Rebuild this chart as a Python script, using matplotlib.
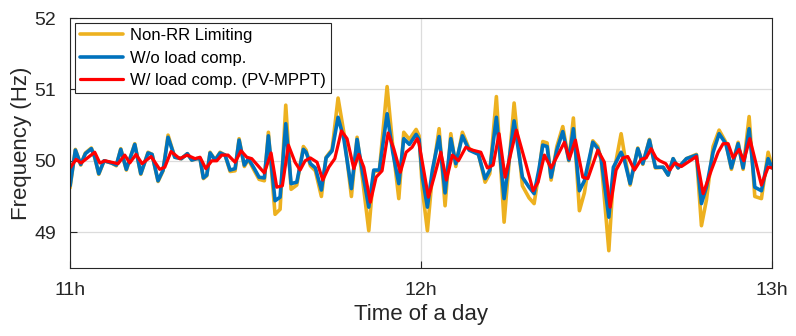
import matplotlib
matplotlib.use('Agg')
import matplotlib.pyplot as plt
import numpy as np

plt.rcParams['font.family'] = ['Liberation Sans', 'DejaVu Sans']

# minutes after 11h, frequency in Hz
tBlue = [0, 0.91, 1.83, 2.62, 3.64, 4.22, 4.91, 5.81, 7.06, 7.91, 8.67, 9.62, 11.06, 12.09,
         13.33, 14.02, 15.04, 15.90, 16.75, 17.90, 19.03, 20.05, 20.80, 21.66, 22.22, 22.79,
         23.37, 23.93, 24.79, 25.64, 26.50, 27.35, 28.21, 28.89, 29.79, 30.48, 31.50, 32.31,
         33.21, 33.90, 35.04, 35.90, 36.87, 37.78, 38.75, 39.88, 40.34, 41.08, 41.93, 42.96,
         43.76, 44.79, 45.81, 46.79, 48.09, 49.06, 50.03, 51.06, 51.91, 52.87, 54.19, 55.16,
         56.19, 57.04, 58.00, 59.15, 59.66, 60.22, 61.08, 61.93, 63.08, 64.10, 65.08, 65.93,
         67.06, 68.21, 69.80, 70.94, 71.74, 72.87, 74.19, 75.90, 77.32, 78.46, 79.32, 80.17,
         80.80, 81.54, 82.22, 83.20, 84.22, 85.25, 86.03, 87.06, 87.91, 89.35, 90.21, 90.77,
         92.09, 92.87, 94.19, 94.75, 95.73, 97.04, 97.90, 99.03, 100.05, 101.37, 102.22,
         103.08, 103.93, 105.35, 107.06, 107.92, 108.77, 109.91, 110.94, 112.09, 113.04,
         114.19, 115.04, 116.07, 117.04, 118.17, 119.32, 120]
fBlue = [49.65, 50.15, 49.95, 50.10, 50.17, 50.05, 49.82, 50.00, 49.97, 49.94, 50.16, 49.88,
         50.23, 49.82, 50.11, 50.09, 49.72, 49.87, 50.33, 50.05, 50.03, 50.10, 50.01, 50.03,
         50.03, 49.76, 49.80, 50.11, 50.01, 50.11, 50.08, 49.87, 49.89, 50.29, 49.94, 50.03,
         49.89, 49.77, 49.76, 50.35, 49.44, 49.49, 50.52, 49.68, 49.70, 50.16, 50.12, 49.96,
         49.90, 49.59, 50.04, 50.14, 50.61, 50.31, 49.61, 50.30, 49.82, 49.35, 49.87, 49.87,
         50.66, 50.12, 49.68, 50.31, 50.23, 50.37, 50.30, 49.77, 49.35, 49.87, 50.34, 49.55,
         50.31, 49.96, 50.35, 50.15, 50.09, 49.75, 49.87, 50.61, 49.47, 50.56, 49.77, 49.63,
         49.54, 49.89, 50.22, 50.20, 49.77, 50.15, 50.41, 50.01, 50.45, 49.58, 49.72, 50.26,
         50.17, 50.03, 49.21, 49.91, 50.12, 50.01, 49.68, 50.17, 49.96, 50.29, 49.91, 49.91,
         49.80, 50.03, 49.90, 50.03, 50.08, 49.40, 49.63, 50.12, 50.38, 50.24, 49.90, 50.24,
         49.90, 50.45, 49.63, 49.58, 50.03, 49.90]
fNonRR = [49.62, 50.16, 49.94, 50.11, 50.18, 50.05, 49.81, 50.00, 49.97, 49.93, 50.17, 49.87,
          50.24, 49.81, 50.12, 50.09, 49.71, 49.86, 50.36, 50.05, 50.03, 50.10, 50.01, 50.03,
          50.03, 49.75, 49.79, 50.12, 50.01, 50.12, 50.08, 49.85, 49.86, 50.31, 49.92, 50.02,
          49.86, 49.74, 49.72, 50.40, 49.25, 49.32, 50.78, 49.60, 49.66, 50.20, 50.15, 49.93,
          49.86, 49.50, 50.05, 50.16, 50.88, 50.40, 49.50, 50.33, 49.72, 49.02, 49.85, 49.86,
          51.04, 50.20, 49.47, 50.40, 50.30, 50.44, 50.35, 49.60, 49.02, 49.80, 50.45, 49.37,
          50.38, 49.92, 50.40, 50.17, 50.10, 49.70, 49.82, 50.90, 49.14, 50.81, 49.65, 49.48,
          49.40, 49.85, 50.27, 50.25, 49.73, 50.20, 50.48, 50.00, 50.60, 49.30, 49.55, 50.28,
          50.20, 50.02, 48.74, 49.80, 50.38, 50.10, 49.66, 50.18, 49.95, 50.30, 49.90, 49.91,
          49.80, 50.03, 49.90, 50.03, 50.09, 49.09, 49.45, 50.20, 50.43, 50.26, 49.88, 50.26,
          49.88, 50.62, 49.50, 49.47, 50.12, 49.92]

tRed = [0, 1.03, 1.88, 4.22, 5.08, 5.98, 8.21, 9.35, 10.21, 11.28, 12.31, 13.85, 15.33, 16.19,
        17.26, 18.75, 20.00, 21.37, 22.22, 23.20, 24.22, 25.08, 25.93, 27.01, 28.21, 29.23,
        30.21, 31.06, 33.21, 34.36, 35.33, 36.29, 37.32, 38.46, 39.32, 40.17, 41.08, 42.22,
        43.20, 44.22, 45.25, 46.38, 47.35, 48.50, 49.35, 50.21, 51.33, 52.31, 53.33, 54.36,
        55.33, 56.46, 57.44, 58.46, 59.32, 59.66, 60.17, 61.25, 62.22, 63.37, 64.33, 65.35,
        66.38, 67.64, 68.77, 70.21, 71.33, 72.31, 73.33, 74.36, 76.29, 77.90, 79.15, 80.00,
        81.08, 82.22, 84.50, 85.35, 86.38, 87.64, 88.50, 90.21, 91.33, 92.31, 93.33, 94.48,
        95.33, 96.46, 97.61, 98.46, 99.32, 100.17, 100.80, 101.83, 102.51, 103.37, 104.50,
        107.06, 108.21, 109.62, 110.77, 111.62, 112.48, 113.33, 114.36, 115.16, 116.19,
        118.17, 119.32, 120]
fRed = [49.90, 50.02, 49.97, 50.12, 49.97, 50.00, 49.96, 50.08, 49.97, 50.09, 49.96, 50.06,
        49.88, 49.91, 50.13, 50.03, 50.08, 50.03, 50.05, 49.89, 50.00, 50.00, 50.08, 50.08,
        49.98, 50.14, 50.05, 50.03, 49.83, 50.11, 49.63, 49.65, 50.22, 49.98, 49.87, 50.00,
        50.04, 49.98, 49.73, 49.91, 50.03, 50.42, 50.31, 49.89, 50.09, 49.91, 49.42, 49.77,
        49.86, 50.39, 50.17, 49.84, 50.12, 50.19, 50.31, 50.24, 50.00, 49.49, 49.77, 50.12,
        49.73, 50.08, 50.00, 50.19, 50.15, 50.12, 49.90, 49.94, 50.38, 49.77, 50.43, 49.96,
        49.58, 49.70, 50.08, 49.90, 50.26, 50.03, 50.29, 49.77, 49.75, 50.15, 49.98, 49.35,
        49.87, 50.04, 50.06, 49.87, 50.02, 50.04, 50.17, 50.04, 50.00, 49.96, 49.87, 49.97,
        49.92, 50.06, 49.54, 49.87, 50.12, 50.24, 50.24, 50.04, 50.16, 50.00, 50.31, 49.66,
        49.91, 49.90]

xTicks = [11, 12, 13]
xTickLabels = ['11h', '12h', '13h']
yTicks = [49, 50, 51, 52]

fig = plt.figure(figsize=(7.96, 3.36), dpi=100)
ax = fig.add_axes([0.088, 0.203, 0.882, 0.743])

lineStyle = dict(solid_joinstyle='round', solid_capstyle='round')
ax.plot(11 + np.array(tBlue) / 60, fNonRR, color='#EDB120', lw=2.6, label='Non-RR Limiting', **lineStyle)
ax.plot(11 + np.array(tBlue) / 60, fBlue, color='#0072BD', lw=2.6, label='W/o load comp.', **lineStyle)
ax.plot(11 + np.array(tRed) / 60, fRed, color='#FF0000', lw=2.3, label='W/ load comp. (PV-MPPT)', **lineStyle)

ax.set_xlim(11, 13)
ax.set_ylim(48.5, 52)
ax.set_xticks(xTicks)
ax.set_xticklabels(xTickLabels)
ax.set_yticks(yTicks)
ax.grid(True, color='#dcdcdc', lw=0.9)
ax.set_axisbelow(True)
ax.tick_params(direction='in', length=5, labelsize=14, colors='#262626', pad=10)
for s in ax.spines.values():
    s.set_color('#262626')
    s.set_linewidth(0.8)
ax.set_xlabel('Time of a day', fontsize=16, color='#262626', labelpad=4)
ax.set_ylabel('Frequency (Hz)', fontsize=16, color='#262626', labelpad=2)

leg = ax.legend(loc='upper left', fontsize=12, frameon=True, fancybox=False,
                borderaxespad=0.3, handlelength=2.6, handletextpad=0.4,
                labelspacing=0.45, borderpad=0.3)
leg.get_frame().set_edgecolor('#262626')
leg.get_frame().set_linewidth(0.8)
leg.get_frame().set_alpha(1)

plt.savefig('out.png', dpi=100)
